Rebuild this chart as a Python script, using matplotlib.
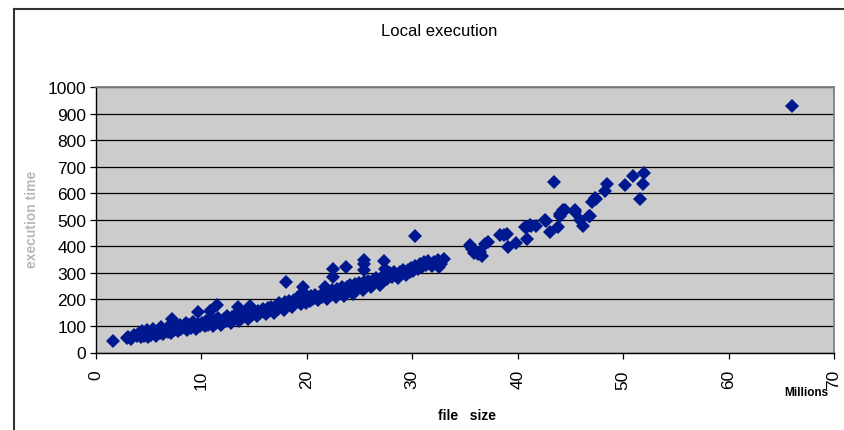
import matplotlib
matplotlib.use("Agg")
import matplotlib.pyplot as plt
from matplotlib.lines import Line2D

plt.rcParams['font.family'] = ['Liberation Sans', 'DejaVu Sans']

# file size (millions of bytes) and execution time, small files
small_x = [1.6, 2.9, 3.0, 3.3, 3.6, 3.9, 4.1, 4.3, 4.4, 4.6, 4.8, 4.9, 5.1, 5.2, 5.4, 5.6,
           5.7, 5.9, 6.1, 6.2, 6.4, 6.6, 6.8, 6.9, 7.1, 7.2, 7.3, 7.4, 7.6, 7.8, 8.0, 8.1,
           8.3, 8.5, 8.6, 8.8, 9.0, 9.2, 9.3, 9.5, 9.7, 9.7, 9.9]
small_y = [42, 54, 58, 52, 66, 61, 72, 57, 80, 64, 85, 60, 75, 67, 90, 70,
           62, 82, 74, 95, 68, 86, 79, 100, 72, 126, 92, 84, 98, 80, 105, 88,
           96, 110, 85, 102, 94, 115, 98, 90, 108, 152, 100]

# medium files
mid_x = [10.1, 10.3, 10.4, 10.6, 10.8, 10.8, 10.9, 11.1, 11.3, 11.4, 11.5, 11.6, 11.8,
         11.9, 12.1, 12.3, 12.4, 12.6, 12.8, 12.9, 13.1, 13.3, 13.4, 13.5, 13.6, 13.8,
         13.9, 14.1, 14.3, 14.4, 14.6, 14.6, 14.8, 14.9, 15.1, 15.3, 15.4, 15.6, 15.8,
         15.9, 16.1, 16.3, 16.4, 16.6, 16.8, 16.9, 17.1, 17.3, 17.4, 17.6, 17.8, 17.9,
         18.0, 18.1, 18.3, 18.4, 18.6, 18.8, 18.9, 19.1, 19.3, 19.4, 19.6, 19.6, 19.6,
         19.8, 19.9]
mid_y = [112, 98, 120, 105, 125, 155, 110, 100, 122, 112, 179, 130, 115,
         105, 128, 118, 138, 122, 112, 135, 125, 145, 130, 173, 120, 142,
         132, 150, 138, 128, 152, 176, 142, 160, 148, 138, 158, 150, 165,
         152, 145, 168, 155, 172, 160, 150, 175, 165, 185, 170, 160, 190,
         265, 178, 195, 182, 172, 198, 185, 205, 192, 182, 210, 248, 227,
         198, 188]

# large files
large_x = [20.1, 20.3, 20.4, 20.6, 20.8, 20.9, 21.1, 21.3, 21.4, 21.6, 21.7, 21.8, 21.9,
           22.1, 22.3, 22.4, 22.5, 22.5, 22.6, 22.8, 22.9, 23.1, 23.3, 23.4, 23.5, 23.6,
           23.7, 23.8, 23.9, 24.1, 24.3, 24.4, 24.4, 24.6, 24.8, 24.9, 25.1, 25.3, 25.4,
           25.4, 25.4, 25.4, 25.6, 25.8, 25.9, 26.1, 26.3, 26.4, 26.6, 26.8, 26.9, 27.1,
           27.3, 27.3, 27.4, 27.4, 27.6, 27.8, 27.9, 28.1, 28.3, 28.4, 28.6, 28.8, 28.9,
           29.1, 29.3, 29.4, 29.6, 29.8, 29.9, 30.1, 30.3, 30.3, 30.5, 30.7, 30.9, 31.1,
           31.3, 31.5, 31.7, 31.9, 32.1, 32.4, 32.5, 32.7, 33.0]
large_y = [205, 195, 212, 200, 215, 205, 198, 218, 208, 225, 246, 212, 202,
           228, 215, 235, 315, 286, 222, 210, 240, 228, 245, 232, 214, 220,
           321, 248, 235, 255, 240, 225, 221, 258, 245, 262, 248, 235, 265,
           350, 334, 309, 252, 270, 258, 245, 272, 260, 280, 265, 255, 285,
           272, 346, 292, 315, 278, 290, 300, 285, 302, 292, 282, 305, 295,
           310, 300, 292, 312, 302, 318, 308, 325, 437, 315, 335, 322, 340,
           330, 345, 335, 325, 342, 350, 321, 332, 352]

# very large files
xl_x = [35.5, 35.6, 35.7, 35.9, 36.0, 36.2, 36.4, 36.6, 36.9, 37.2, 38.3, 38.7, 39.0,
        39.1, 39.8, 40.7, 40.9, 40.9, 41.2, 41.3, 41.7, 42.6, 42.7, 43.1, 43.4, 43.8,
        44.0, 44.0, 44.3, 44.5, 45.4, 45.4, 45.9, 46.2, 46.8, 46.9, 47.0, 47.3, 47.4,
        48.3, 48.5, 50.2, 50.9, 51.6, 51.9, 52.0, 66.0]
xl_y = [405, 397, 390, 375, 379, 372, 380, 365, 409, 416, 441, 441, 447,
        397, 414, 472, 426, 472, 481, 478, 478, 500, 497, 454, 642, 471,
        523, 516, 535, 535, 535, 531, 500, 478, 516, 516, 567, 582, 579,
        607, 636, 632, 665, 579, 635, 676, 928]

x_ticks = [0, 10, 20, 30, 40, 50, 60, 70]
y_ticks = [0, 100, 200, 300, 400, 500, 600, 700, 800, 900, 1000]

W, H = 845, 431
fig = plt.figure(figsize=(W / 100, H / 100), dpi=100)
fig.patch.set_facecolor('white')

ax = fig.add_axes([96 / W, (H - 353.5) / H, (834 - 96) / W, (353.5 - 88) / H])
ax.set_facecolor('#CCCCCC')

marker_color = '#00188F'
for xs, ys in [(small_x, small_y), (mid_x, mid_y), (large_x, large_y), (xl_x, xl_y)]:
    ax.plot(xs, ys, linestyle='none', marker='D', markersize=6.8,
            color=marker_color, markeredgewidth=0, zorder=3)

ax.set_xlim(0, 70)
ax.set_ylim(0, 1000)
ax.set_xticks(x_ticks)
ax.set_yticks(y_ticks)
ax.set_xticklabels([str(v) for v in x_ticks], rotation=90)
ax.yaxis.grid(True, color='black', linewidth=0.9)
ax.set_axisbelow(True)

ax.tick_params(axis='both', direction='out', length=4, width=0.9,
               color='black', labelsize=12.5)
ax.tick_params(axis='x', pad=8)
ax.tick_params(axis='y', pad=3)

for side in ('left', 'bottom'):
    ax.spines[side].set_color('black')
    ax.spines[side].set_linewidth(1.0)
for side in ('top', 'right'):
    ax.spines[side].set_color('#808080')
    ax.spines[side].set_linewidth(1.3)

fig.text(439 / W, 1 - 32 / H, 'Local execution', ha='center', va='center', fontsize=12)
fig.text(467 / W, 1 - 416 / H, 'file   size', ha='center', va='center',
         fontsize=10, fontweight='bold')
fig.text(806 / W, 1 - 393 / H, 'Millions', ha='center', va='center',
         fontsize=8.5, fontweight='bold')
fig.text(32 / W, 1 - 219 / H, 'execution time', ha='center', va='center',
         rotation=90, fontsize=10, fontweight='bold', color='#B8B8B8')

# chart area frame
fig.add_artist(Line2D([14 / W, 14 / W], [0, 1 - 10 / H], transform=fig.transFigure,
                      color='#333333', linewidth=1.5))
fig.add_artist(Line2D([14 / W, 1], [1 - 10 / H, 1 - 10 / H], transform=fig.transFigure,
                      color='#333333', linewidth=1.5))

fig.savefig('out.png', dpi=100)
